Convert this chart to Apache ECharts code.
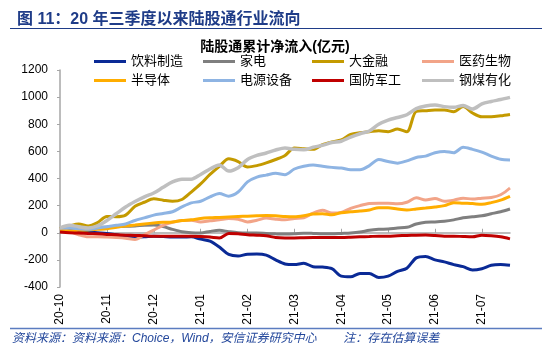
<!DOCTYPE html>
<html><head><meta charset="utf-8">
<script src="https://cdn.jsdelivr.net/npm/echarts@6/dist/echarts.min.js"></script>
<style>html,body{margin:0;padding:0;background:#fff}#c{width:550px;height:358px}</style>
</head><body><div id="c"></div>
<script>
// categories: five sample points per month (day of month), label shown on day 01
const categories = [
 '20-10-01','20-10-07','20-10-13','20-10-19','20-10-25',
 '20-11-01','20-11-07','20-11-13','20-11-19','20-11-25',
 '20-12-01','20-12-07','20-12-13','20-12-19','20-12-25',
 '21-01-01','21-01-07','21-01-13','21-01-19','21-01-25',
 '21-02-01','21-02-07','21-02-13','21-02-19','21-02-25',
 '21-03-01','21-03-07','21-03-13','21-03-19','21-03-25',
 '21-04-01','21-04-07','21-04-13','21-04-19','21-04-25',
 '21-05-01','21-05-07','21-05-13','21-05-19','21-05-25',
 '21-06-01','21-06-07','21-06-13','21-06-19','21-06-25',
 '21-07-01','21-07-07','21-07-13','21-07-19'
];
const seriesNames = ['饮料制造','家电','大金融','医药生物','半导体','电源设备','国防军工','钢煤有化'];
const yinliao  = [35,30,15,5,0,-5,-15,-28,-32,-30,-25,-28,-32,-32,-30,-47,-62,-105,-160,-172,-158,-157,-165,-200,-230,-235,-225,-250,-253,-265,-320,-325,-300,-300,-330,-320,-285,-262,-185,-175,-200,-215,-235,-250,-275,-265,-240,-235,-240];
const jiadian  = [35,40,40,35,40,42,45,48,50,55,57,45,25,8,0,-2,10,18,8,0,-2,-2,-5,-8,-10,-8,-3,-5,-8,-8,-5,-2,5,18,25,28,35,40,65,78,80,85,95,110,118,125,140,155,175];
const jinrong  = [30,50,65,50,75,120,118,130,195,225,250,240,232,245,300,360,430,490,545,525,485,495,515,540,570,625,620,615,650,670,685,725,738,745,752,745,765,745,895,900,905,905,892,930,883,855,855,862,872];
const yiyao    = [30,10,-15,-30,-30,-32,-35,-40,-50,-15,20,55,78,90,92,80,88,95,105,100,80,92,108,100,95,105,110,145,165,145,150,180,200,215,218,218,213,225,258,242,252,232,240,255,248,255,260,280,330];
const bandaoti = [15,15,18,20,25,30,40,50,57,65,72,77,80,90,95,105,110,113,117,120,122,125,127,125,120,118,125,138,140,132,148,155,160,168,185,185,175,168,175,182,190,200,222,218,215,210,222,240,268];
const dianyuan = [35,35,30,25,35,45,55,65,90,110,130,142,155,190,220,232,265,290,270,300,375,410,425,438,428,470,490,500,490,482,477,465,465,495,540,525,513,530,555,565,590,600,590,630,615,595,565,542,537];
const guofang  = [5,0,-2,-5,-8,-12,-15,-18,-20,-22,-25,-25,-25,-25,-25,-28,-32,-38,-5,-8,-15,-18,-22,-35,-38,-38,-36,-35,-35,-35,-35,-33,-30,-28,-25,-25,-22,-20,-18,-17,-20,-25,-25,-28,-30,-18,-22,-30,-45];
const gangmei  = [35,55,45,35,50,90,140,190,230,265,293,335,375,395,395,430,470,500,455,480,540,570,588,610,625,615,612,630,645,665,675,705,730,750,800,830,850,870,915,935,942,930,925,938,912,950,968,982,998];
const allValues = [yinliao, jiadian, jinrong, yiyao, bandaoti, dianyuan, guofang, gangmei];
const yMin = -400, yMax = 1200, yStep = 200;

const colors = ['#0A2A96','#7F7F7F','#C49A00','#F2A488','#FFAD00','#8EB4E3','#C00000','#BFBFBF'];
const widths = [3,3,3,3,3,3,3,3.5];
const isMonthStart = (i, v) => String(v).slice(6) === '01';
const FONT = '"Liberation Sans", "Noto Sans CJK SC", sans-serif';

const chart = echarts.init(document.getElementById('c'), null, {renderer: 'canvas'});
const legendCols = [[0,4],[1,5],[2,6],[3,7]];
const legendLefts = [89, 198, 307, 417];

chart.setOption({
  animation: false,
  backgroundColor: '#fff',
  title: [
    {text: '图 11：20 年三季度以来陆股通行业流向', left: 12, top: 7,
     textStyle: {fontSize: 16, fontWeight: 'bold', color: '#1F3C88', fontFamily: FONT}},
    {text: '陆股通累计净流入(亿元)', left: 'center', top: 35,
     textStyle: {fontSize: 14, fontWeight: 'bold', color: '#000', fontFamily: FONT}}
  ],
  legend: legendCols.map((col, k) => ({
    orient: 'vertical', left: legendLefts[k], top: 47,
    data: col.map(i => seriesNames[i]),
    icon: 'rect', itemWidth: 32, itemHeight: 3, itemGap: 0,
    textStyle: {fontSize: 13, color: '#000', lineHeight: 19, fontFamily: FONT}
  })),
  grid: {left: 60, right: 40, top: 70, bottom: 71},
  xAxis: [
    {type: 'category', data: categories, boundaryGap: false, position: 'top',
     axisLine: {show: true, onZero: true, lineStyle: {color: '#A6A6A6', width: 1.5}},
     axisTick: {show: true, interval: isMonthStart, length: 4, lineStyle: {color: '#A6A6A6'}},
     axisLabel: {show: false}, splitLine: {show: false}},
    {type: 'category', data: categories, boundaryGap: false, position: 'bottom',
     axisLine: {show: false, onZero: false}, axisTick: {show: false},
     axisLabel: {interval: isMonthStart, rotate: 90, margin: 7, fontSize: 12, color: '#000',
       fontFamily: FONT, formatter: v => v.slice(0,5)},
     splitLine: {show: false}}
  ],
  yAxis: {type: 'value', min: yMin, max: yMax, interval: yStep,
    axisLine: {show: true, onZero: false, lineStyle: {color: '#A6A6A6', width: 1.5}},
    axisTick: {show: true, length: 3, lineStyle: {color: '#A6A6A6'}},
    axisLabel: {fontSize: 12, color: '#000', margin: 12, fontFamily: FONT, formatter: v => String(v)},
    splitLine: {show: false}},
  series: seriesNames.map((n, i) => ({
    name: n, type: 'line', data: allValues[i], xAxisIndex: 0,
    smooth: 0.3, symbol: 'none', color: colors[i],
    lineStyle: {width: widths[i], color: colors[i]}
  })),
  graphic: [
    {type: 'line', shape: {x1: 10, y1: 28.5, x2: 542, y2: 28.5}, style: {stroke: '#1F3C88', lineWidth: 1}},
    {type: 'line', shape: {x1: 10, y1: 328.5, x2: 542, y2: 328.5}, style: {stroke: '#5B7CC0', lineWidth: 1.5}},
    {type: 'text', left: 12, top: 333,
     style: {text: '资料来源：资料来源：Choice，Wind，安信证券研究中心        注：存在估算误差',
       fill: '#23479B', font: 'italic 12px "Liberation Sans", "Noto Sans CJK SC", sans-serif'}}
  ]
});
</script></body></html>
